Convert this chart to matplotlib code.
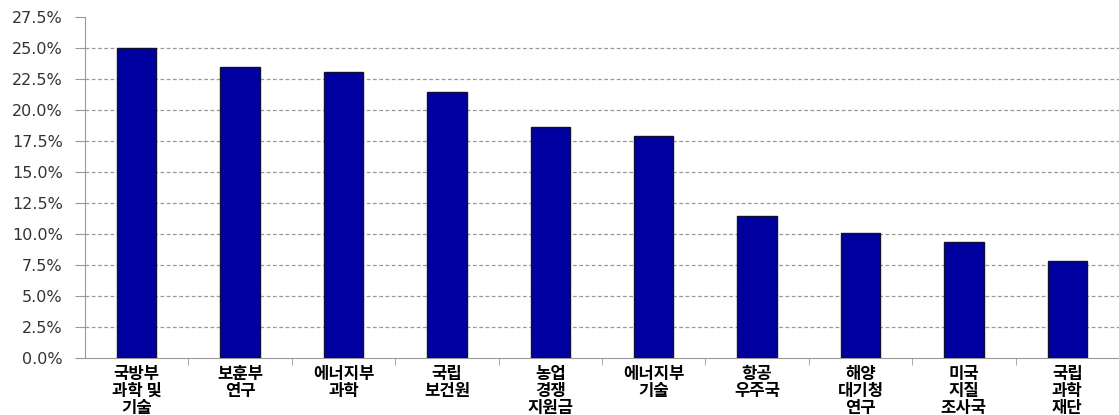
import numpy as np
import matplotlib
matplotlib.use("Agg")
from matplotlib import pyplot as plt
from matplotlib.ticker import FixedLocator

plt.rcParams['font.family'] = ['Noto Sans CJK KR', 'DejaVu Sans']

labels = ["국방부\n과학 및\n기술", "보훈부\n연구", "에너지부\n과학", "국립\n보건원",
          "농업\n경쟁\n지원금", "에너지부\n기술", "항공\n우주국", "해양\n대기청\n연구",
          "미국\n지질\n조사국", "국립\n과학\n재단"]
values = [25.0, 23.5, 23.1, 21.45, 18.6, 17.9, 11.45, 10.1, 9.35, 7.8]
yticks = np.arange(0, 27.6, 2.5)

fig = plt.figure(figsize=(11.19, 4.15), dpi=100)
ax = fig.add_axes([0.076, 0.137, 0.924, 0.822])

x = np.arange(len(values))
ax.bar(x, values, width=0.38, color="#0000A0", edgecolor="#101030", linewidth=1, zorder=3)

ax.set_xlim(-0.5, len(values) - 0.5)
ax.set_ylim(0, 27.5)
ax.set_yticks(yticks)
ax.set_yticklabels([f"{v:.1f}%" for v in yticks], fontsize=11.5, color="#333333",
                   family="DejaVu Sans")
# dashed gridlines, none at the top tick
for v in yticks[1:-1]:
    ax.axhline(v, color="#999999", linestyle=(0, (3, 2)), linewidth=0.9, zorder=1)

ax.set_xticks(x)
ax.set_xticklabels(labels, fontsize=12, fontweight="bold", linespacing=0.92)
ax.tick_params(axis="x", length=0, pad=5)
ax.xaxis.set_minor_locator(FixedLocator(np.arange(0.5, len(values) - 0.5, 1)))
ax.tick_params(axis="x", which="minor", length=5, color="#999999", direction="out")
ax.tick_params(axis="y", length=7, color="#999999", direction="out", pad=9)

for s in ["top", "right"]:
    ax.spines[s].set_visible(False)
ax.spines["left"].set_color("#999999")
ax.spines["bottom"].set_color("#999999")

plt.savefig("out.png", dpi=100)
